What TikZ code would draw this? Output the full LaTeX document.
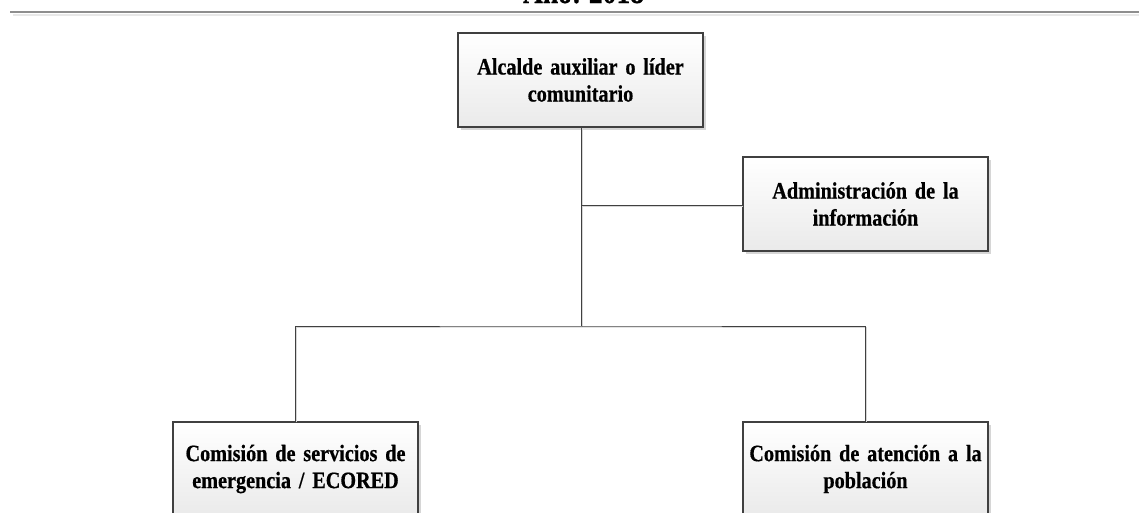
\documentclass[tikz,border=0pt]{standalone}
\usepackage{fontspec}
\setmainfont{Liberation Serif}
\newfontfamily\boxfont[FakeStretch=0.86, WordSpace=0.8, FakeBold=0.6]{Liberation Serif}
\usetikzlibrary{shadows}
\definecolor{boxline}{HTML}{404040}
\definecolor{boxbot}{HTML}{EAEAEA}
\definecolor{shadowgray}{HTML}{D6D6D6}
\definecolor{rulegray}{HTML}{8E8E8E}
\definecolor{ruleshadow}{HTML}{E8E8E8}
\begin{document}
\begin{tikzpicture}[x=1pt,y=1pt,
  box/.style={draw=boxline, line width=1.2pt, minimum width=245pt, minimum height=94pt,
    text width=243pt, align=center, inner sep=0pt,
    font=\boxfont\fontsize{23.5}{27}\selectfont\bfseries,
    top color=white, bottom color=boxbot,
    drop shadow={shadow xshift=3pt, shadow yshift=-3pt, fill=shadowgray, opacity=1}},
  conn/.style={draw=boxline, line width=1pt},
  connshadow/.style={draw=shadowgray, line width=1pt, transform canvas={shift={(1pt,-1pt)}}}]
\useasboundingbox (0,0) rectangle (1139,-512);
% title and rule
\node[anchor=base, inner sep=0pt, font=\boxfont\fontsize{32}{36}\selectfont\bfseries] (title) at (583.5,-3) {Año: 2018};
\coordinate (r1) at (10,-12);
\coordinate (r2) at (1139,-12);
\coordinate (s1) at (13,-15);
\coordinate (s2) at (1139,-15);
\draw[ruleshadow, line width=2pt] (s1) -- (s2);
\draw[rulegray, line width=2pt] (r1) -- (r2);
% nodes
\node[box] (top) at (580.5,-80) {Alcalde auxiliar o líder\\comunitario};
\node[box] (info) at (865.5,-204) {Administración de la\\información};
\node[box] (bl) at (295.5,-469) {Comisión de servicios de\\emergencia / ECORED};
\node[box] (brn) at (865.5,-469) {Comisión de atención a la\\población};
% junctions
\coordinate (bus) at (581,-326);
\coordinate (jb) at (581,-205);
% connector shadows
\draw[connshadow] (top.south -| bus) -- (bus);
\draw[connshadow] (jb) -- (info.west |- jb);
\draw[connshadow] (bl.north) |- (bus) -| (brn.north);
% connectors
\draw[conn] (top.south -| bus) -- (bus);
\draw[conn] (jb) -- (info.west |- jb);
\draw[conn] (bl.north) |- (bus) -| (brn.north);
\end{tikzpicture}
\end{document}
